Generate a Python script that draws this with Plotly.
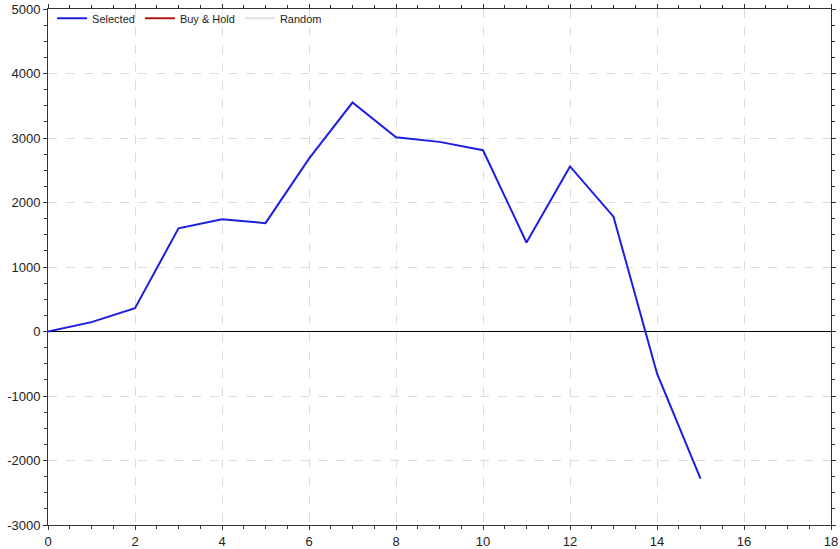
import plotly.graph_objects as go

x_vals = list(range(16))
selected = [0, 145, 360, 1600, 1740, 1680, 2680, 3550, 3010, 2940, 2810, 1380, 2560, 1780, -650, -2280]
buy_hold = [None]
random_vals = [None]

y_tickvals = [-3000, -2000, -1000, 0, 1000, 2000, 3000, 4000, 5000]
y_ticktext = ["-3000", "-2000", "-1000", "0", "1000", "2000", "3000", "4000", "5000"]
x_tickvals = [0, 2, 4, 6, 8, 10, 12, 14, 16, 18]
x_ticktext = ["0", "2", "4", "6", "8", "10", "12", "14", "16", "18"]

fig = go.Figure()
fig.add_trace(go.Scatter(x=x_vals, y=selected, mode="lines", name="Selected",
                         line=dict(color="rgb(30,30,225)", width=2)))
fig.add_trace(go.Scatter(x=[None], y=buy_hold, mode="lines", name="Buy & Hold",
                         line=dict(color="rgb(180,20,20)", width=2)))
fig.add_trace(go.Scatter(x=[None], y=random_vals, mode="lines", name="Random",
                         line=dict(color="rgb(225,225,225)", width=2)))

axis_common = dict(
    showline=True, linecolor="#333333", linewidth=1, mirror="allticks",
    ticks="outside", ticklen=4, tickcolor="#333333", automargin=False,
    showgrid=True, gridcolor="#dcdcdc", griddash="dash", gridwidth=1,
    tickfont=dict(family="Liberation Sans, Arial", size=13, color="#222222"),
)

fig.update_xaxes(range=[0, 18], tickmode="array", tickvals=x_tickvals, ticktext=x_ticktext,
                 zeroline=False,
                 minor=dict(dtick=0.5, ticks="outside", ticklen=3, tickcolor="#333333", showgrid=False),
                 **axis_common)
fig.update_yaxes(range=[-3000, 5000], tickmode="array", tickvals=y_tickvals, ticktext=y_ticktext,
                 zeroline=True, zerolinecolor="#000000", zerolinewidth=1,
                 minor=dict(dtick=250, ticks="outside", ticklen=3, tickcolor="#333333", showgrid=False),
                 **axis_common)

fig.update_layout(
    width=840, height=549,
    margin=dict(l=48, r=9, t=9, b=24, autoexpand=False),
    paper_bgcolor="white", plot_bgcolor="white",
    font=dict(family="Liberation Sans, Arial", size=11, color="#222222"),
    showlegend=True,
    legend=dict(orientation="h", xref="container", yref="container",
                x=0.062, y=0.993, xanchor="left", yanchor="top",
                bgcolor="rgba(255,255,255,0)", font=dict(size=11), itemwidth=30,
                tracegroupgap=0),
)

fig.write_html("out.html", config={"displayModeBar": False},
               post_script="document.body.style.margin='0px';")
